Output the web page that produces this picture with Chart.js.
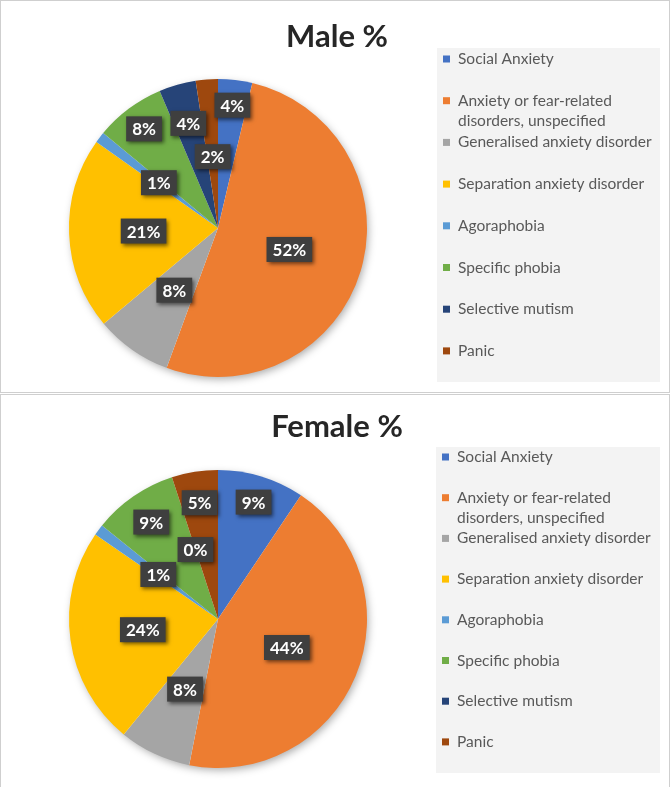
<!DOCTYPE html>
<html>
<head>
<meta charset="utf-8">
<script src="https://cdn.jsdelivr.net/npm/chart.js@4.4.1/dist/chart.umd.min.js"></script>
<style>
  body { margin: 0; background: #fff; }
  .panel { position: absolute; left: 0; width: 670px; height: 393px; box-sizing: border-box; border: 1px solid #cfcfcf; background: #fff; }
  #malePanel { top: 0; }
  #femalePanel { top: 394px; border-bottom: none; }
  canvas { display: block; }
</style>
</head>
<body>
<div class="panel" id="malePanel"><canvas id="maleChart" width="668" height="391"></canvas></div>
<div class="panel" id="femalePanel"><canvas id="femaleChart" width="668" height="392"></canvas></div>
<script>
const categories = [
  'Social Anxiety',
  ['Anxiety or fear-related', 'disorders, unspecified'],
  'Generalised anxiety disorder',
  'Separation anxiety disorder',
  'Agoraphobia',
  'Specific phobia',
  'Selective mutism',
  'Panic'
];
// percentages
const maleValues = [3.7, 51.9, 8.3, 20.9, 1.2, 7.6, 4.0, 2.4];
const femaleValues = [9.4, 43.7, 7.8, 23.7, 1.2, 9.2, 0, 5.0];

const sliceColors = ['#4472C4', '#ED7D31', '#A5A5A5', '#FFC000', '#5B9BD5', '#70AD47', '#264478', '#9E480E'];
const FONT = 'Lato, "Open Sans", sans-serif';

// title, legend panel, data label boxes and pie shadow
const panelDecor = {
  id: 'panelDecor',
  beforeDatasetsDraw(chart, args, opts) {
    const arc = chart.getDatasetMeta(0).data[0];
    const p = arc.getProps(['x', 'y', 'outerRadius'], true);
    const ctx = chart.ctx;
    ctx.save();
    ctx.shadowColor = 'rgba(0,0,0,0.35)';
    ctx.shadowBlur = 9;
    ctx.shadowOffsetX = 2;
    ctx.shadowOffsetY = 3;
    ctx.fillStyle = '#ffffff';
    ctx.beginPath();
    ctx.arc(p.x, p.y, p.outerRadius - 1, 0, Math.PI * 2);
    ctx.fill();
    ctx.restore();
  },
  afterDatasetsDraw(chart, args, opts) {
    const ctx = chart.ctx;
    const meta = chart.getDatasetMeta(0);
    const values = chart.data.datasets[0].data;
    const total = values.reduce((a, b) => a + b, 0);
    ctx.save();
    ctx.font = 'bold 17px ' + FONT;
    ctx.textAlign = 'center';
    ctx.textBaseline = 'middle';
    meta.data.forEach((arc, i) => {
      const p = arc.getProps(['x', 'y', 'startAngle', 'endAngle', 'outerRadius'], true);
      const mid = (p.startAngle + p.endAngle) / 2;
      const r = p.outerRadius * opts.labelRadius[i];
      const x = p.x + Math.cos(mid) * r;
      const y = p.y + Math.sin(mid) * r;
      const text = Math.round(values[i] / total * 100) + '%';
      const w = ctx.measureText(text).width + 12;
      const h = 25;
      ctx.save();
      ctx.shadowColor = 'rgba(0,0,0,0.55)';
      ctx.shadowBlur = 4;
      ctx.shadowOffsetX = 2;
      ctx.shadowOffsetY = 2;
      ctx.fillStyle = '#3f3f3f';
      ctx.fillRect(x - w / 2, y - h / 2, w, h);
      ctx.restore();
      ctx.fillStyle = '#ffffff';
      ctx.fillText(text, x, y + 1);
    });
    ctx.restore();
  },
  afterDraw(chart, args, opts) {
    const ctx = chart.ctx;
    ctx.save();
    // title
    ctx.font = 'bold 31px ' + FONT;
    ctx.fillStyle = '#262626';
    ctx.textAlign = 'center';
    ctx.textBaseline = 'alphabetic';
    ctx.fillText(opts.title, chart.width / 2 + 2, opts.titleY);

    // legend panel
    const b = opts.legendBox;
    ctx.fillStyle = '#f3f3f3';
    ctx.fillRect(b.x, b.y, b.w, b.h);
    ctx.font = '15.5px ' + FONT;
    ctx.textAlign = 'left';
    ctx.textBaseline = 'middle';
    const colors = chart.data.datasets[0].backgroundColor;
    chart.data.labels.forEach((label, i) => {
      const y = opts.legendFirstY + i * opts.legendStep;
      ctx.fillStyle = colors[i];
      ctx.fillRect(b.x + 6, y - 3.5, 7, 7);
      ctx.fillStyle = '#595959';
      const lines = Array.isArray(label) ? label : [label];
      lines.forEach((line, j) => ctx.fillText(line, b.x + 21, y + j * 20));
    });
    ctx.restore();
  }
};

function buildPie(canvasId, values, cfg) {
  return new Chart(document.getElementById(canvasId), {
    type: 'pie',
    data: {
      labels: categories,
      datasets: [{
        data: values,
        backgroundColor: sliceColors,
        borderWidth: 0
      }]
    },
    options: {
      responsive: false,
      animation: false,
      layout: { padding: cfg.padding },
      plugins: {
        legend: { display: false },
        tooltip: { enabled: false },
        panelDecor: cfg
      }
    },
    plugins: [panelDecor]
  });
}

buildPie('maleChart', maleValues, {
  title: 'Male %',
  titleY: 46,
  padding: { left: 68, right: 302, top: 78, bottom: 15 },
  labelRadius: [0.83, 0.5, 0.51, 0.5, 0.5, 0.83, 0.73, 0.48],
  legendBox: { x: 436, y: 47, w: 223, h: 334 },
  legendFirstY: 58,
  legendStep: 41.7
});

buildPie('femaleChart', femaleValues, {
  title: 'Female %',
  titleY: 42,
  padding: { left: 68, right: 302, top: 75, bottom: 19 },
  labelRadius: [0.82, 0.5, 0.52, 0.51, 0.5, 0.79, 0.49, 0.79],
  legendBox: { x: 435, y: 52, w: 224, h: 326 },
  legendFirstY: 62,
  legendStep: 40.7
});
</script>
</body>
</html>
